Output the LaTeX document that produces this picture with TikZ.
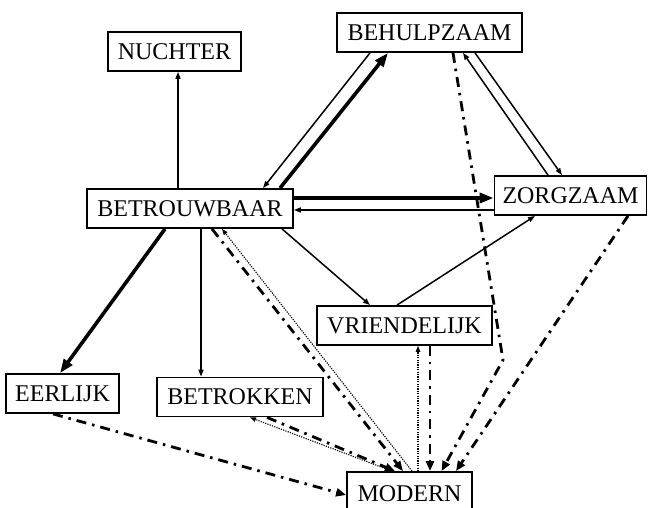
\documentclass[tikz,border=0pt]{standalone}
\usepackage{fontspec}
\setmainfont{Liberation Serif}
\usetikzlibrary{arrows.meta}

\tikzset{
  wordbox/.style={draw, line width=1.8pt, inner sep=0pt, minimum height=39pt,
    minimum width=#1, text height=15.9pt, text depth=0pt,
    font=\fontsize{24}{24}\selectfont},
  strongrel/.style={line width=3.6pt, -{Triangle[length=14pt,width=10pt]}},
  weakrel/.style={line width=1.5pt, -{Triangle[length=7pt,width=5pt]}},
  dashdotrel/.style={line width=2.8pt, dash pattern=on 10pt off 6pt on 2.5pt off 6pt,
    -{Triangle[length=10pt,width=8pt]}},
  dottedrel/.style={line width=1.1pt, dash pattern=on 1.2pt off 1.2pt,
    -{Triangle[length=6pt,width=4.5pt]}},
}

\begin{document}
\begin{tikzpicture}[x=1pt,y=-1pt]
\useasboundingbox (0,0) rectangle (648,508);

% concepts
\node[wordbox=133pt] (nuch) at (174.5,51.5) {NUCHTER};
\node[wordbox=185pt] (beh)  at (429.5,32.5) {BEHULPZAAM};
\node[wordbox=206pt] (betr) at (190,208.5)  {BETROUWBAAR};
\node[wordbox=152pt] (zorg) at (570.5,195.5) {ZORGZAAM};
\node[wordbox=175pt] (vri)  at (404.5,325.5) {VRIENDELIJK};
\node[wordbox=113pt] (eer)  at (62.5,393.5)  {EERLIJK};
\node[wordbox=166pt] (betk) at (240,397)     {BETROKKEN};
\node[wordbox=125pt, minimum height=43pt] (mod) at (409.5,493.5) {MODERN};

\coordinate (bend) at (503,360);

% solid relations
\draw[weakrel]   ([xshift=-12pt]betr.north) -- ([xshift=3.5pt]nuch.south);
\draw[weakrel]   ([xshift=-59.5pt]beh.south) -- ([xshift=73pt]betr.north);
\draw[strongrel] ([xshift=90pt]betr.north) -- ([xshift=-41.5pt]beh.south);
\draw[strongrel] ([yshift=10.5pt]betr.east) -- ([yshift=-2.5pt]zorg.west);
\draw[weakrel]   ([yshift=-14.5pt]zorg.west) -- ([yshift=-1.5pt]betr.east);
\draw[weakrel]   ([xshift=-22.5pt]zorg.north) -- ([xshift=33.5pt]beh.south);
\draw[weakrel]   ([xshift=45.5pt]beh.south) -- ([xshift=-8.5pt]zorg.north);
\draw[weakrel]   ([xshift=92pt]betr.south) -- ([xshift=-34.5pt]vri.north);
\draw[weakrel]   ([xshift=-7.5pt]vri.north) -- ([xshift=-35.5pt]zorg.south);
\draw[strongrel] ([xshift=-25pt]betr.south) -- ([xshift=-2.5pt]eer.north);
\draw[weakrel]   ([xshift=11pt]betr.south) -- ([xshift=-39pt]betk.north);

% dash-dotted relations
\draw[dashdotrel] ([xshift=22pt]betr.south) -- ([xshift=-6.5pt]mod.north);
\draw[dashdotrel] ([xshift=27pt]betk.south) -- ([xshift=-14.5pt]mod.north);
\draw[dashdotrel] ([xshift=25.5pt]vri.south) -- ([xshift=20.5pt]mod.north);
\draw[dashdotrel] ([xshift=23.5pt]beh.south) -- (bend) -- ([xshift=32pt]mod.north);
\draw[dashdotrel] ([xshift=57.5pt]zorg.south) -- ([xshift=46.5pt]mod.north);
\draw[dashdotrel] ([xshift=-9.5pt]eer.south) -- ([yshift=-1.5pt]mod.west);

% dotted relations
\draw[dottedrel] ([xshift=2.5pt]mod.north) -- ([xshift=32pt]betr.south);
\draw[dottedrel] ([xshift=-17.5pt]mod.north) -- ([xshift=10pt]betk.south);
\draw[dottedrel] ([xshift=8.5pt]mod.north) -- ([xshift=13.5pt]vri.south);
\end{tikzpicture}
\end{document}
